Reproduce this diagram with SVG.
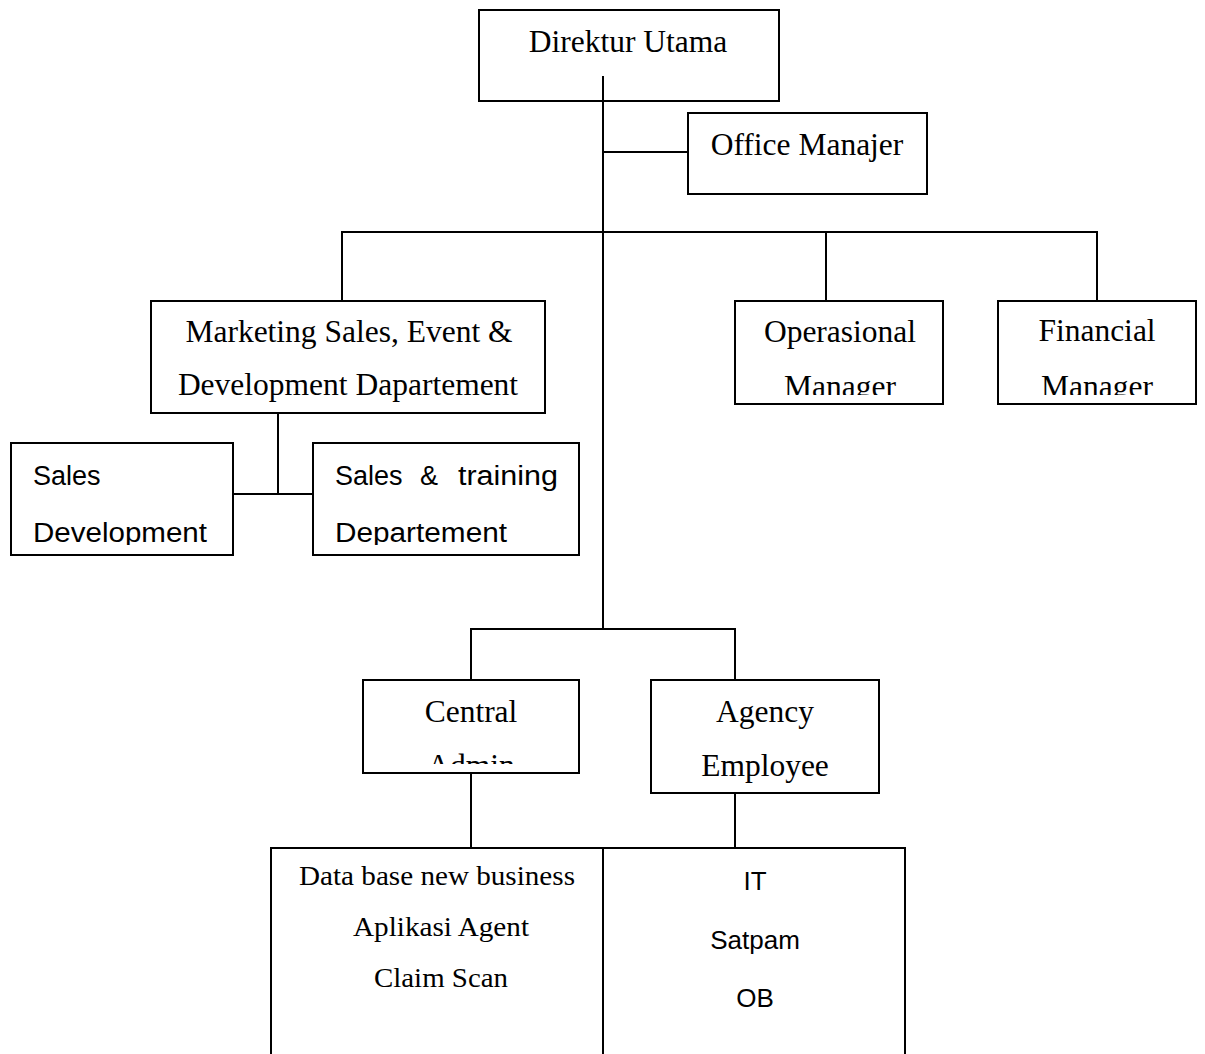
<svg xmlns="http://www.w3.org/2000/svg" width="1205" height="1054" viewBox="0 0 1205 1054">
<style>
.box{fill:#fff;stroke:#000;stroke-width:2}
.ln{stroke:#000;stroke-width:2;fill:none}
.s{font-family:"Liberation Serif","Times New Roman",serif;font-size:31.5px;fill:#000;text-anchor:middle}
.sb{font-family:"Liberation Serif","Times New Roman",serif;font-size:27px;fill:#000;text-anchor:middle}
.a{font-family:"Liberation Sans",Arial,sans-serif;font-size:27px;fill:#000}
.ab{font-family:"Liberation Sans",Arial,sans-serif;font-size:26px;fill:#000;text-anchor:middle}
</style>
<defs>
<clipPath id="cOp"><rect x="736" y="302" width="206" height="93"/></clipPath>
<clipPath id="cFin"><rect x="999" y="302" width="196" height="93"/></clipPath>
<clipPath id="cSD"><rect x="12" y="444" width="220" height="101"/></clipPath>
<clipPath id="cST"><rect x="314" y="444" width="264" height="101"/></clipPath>
<clipPath id="cCA"><rect x="364" y="681" width="214" height="83"/></clipPath>
</defs>
<rect width="1205" height="1054" fill="#fff"/>
<g id="connectors">
<line class="ln" x1="603" y1="76" x2="603" y2="629"/>
<line class="ln" x1="603" y1="152" x2="688" y2="152"/>
<polyline class="ln" points="342,301 342,232 1097,232 1097,301"/>
<line class="ln" x1="826" y1="232" x2="826" y2="301"/>
<line class="ln" x1="278" y1="413" x2="278" y2="494"/>
<line class="ln" x1="233" y1="494" x2="313" y2="494"/>
<polyline class="ln" points="471,680 471,629 735,629 735,680"/>
<line class="ln" x1="471" y1="773" x2="471" y2="848"/>
<line class="ln" x1="735" y1="793" x2="735" y2="848"/>
</g>
<g id="direktur-utama">
<rect class="box" x="479" y="10" width="300" height="91"/>
<line class="ln" x1="603" y1="76" x2="603" y2="101"/>
<text class="s" x="628" y="52">Direktur Utama</text>
</g>
<g id="office-manajer">
<rect class="box" x="688" y="113" width="239" height="81"/>
<text class="s" x="807" y="155">Office Manajer</text>
</g>
<g id="marketing">
<rect class="box" x="151" y="301" width="394" height="112"/>
<text class="s" x="349" y="342">Marketing Sales, Event &amp;</text>
<text class="s" x="348" y="395">Development Dapartement</text>
</g>
<g id="operasional">
<rect class="box" x="735" y="301" width="208" height="103"/>
<g clip-path="url(#cOp)">
<text class="s" x="840" y="342">Operasional</text>
<text class="s" x="840" y="397">Manager</text>
</g>
</g>
<g id="financial">
<rect class="box" x="998" y="301" width="198" height="103"/>
<g clip-path="url(#cFin)">
<text class="s" x="1097" y="341">Financial</text>
<text class="s" x="1097" y="397">Manager</text>
</g>
</g>
<g id="sales-development">
<rect class="box" x="11" y="443" width="222" height="112"/>
<g clip-path="url(#cSD)">
<text class="a" x="33" y="485">Sales</text>
<text class="a" x="33" y="542" textLength="174" lengthAdjust="spacingAndGlyphs">Development</text>
</g>
</g>
<g id="sales-training">
<rect class="box" x="313" y="443" width="266" height="112"/>
<g clip-path="url(#cST)">
<text class="a" x="335" y="485">Sales</text>
<text class="a" x="429" y="485" text-anchor="middle">&amp;</text>
<text class="a" x="558" y="485" text-anchor="end" textLength="100" lengthAdjust="spacingAndGlyphs">training</text>
<text class="a" x="335" y="542" textLength="172" lengthAdjust="spacingAndGlyphs">Departement</text>
</g>
</g>
<g id="central-admin">
<rect class="box" x="363" y="680" width="216" height="93"/>
<g clip-path="url(#cCA)">
<text class="s" x="471" y="722">Central</text>
<text class="s" x="471" y="776">Admin</text>
</g>
</g>
<g id="agency-employee">
<rect class="box" x="651" y="680" width="228" height="113"/>
<text class="s" x="765" y="722">Agency</text>
<text class="s" x="765" y="776">Employee</text>
</g>
<g id="bottom-units">
<polyline class="ln" points="271,1056 271,848 905,848 905,1056"/>
<line class="ln" x1="603" y1="848" x2="603" y2="1056"/>
<text class="sb" x="437" y="885" textLength="276" lengthAdjust="spacingAndGlyphs">Data base new business</text>
<text class="sb" x="441" y="936" textLength="176" lengthAdjust="spacingAndGlyphs">Aplikasi Agent</text>
<text class="sb" x="441" y="987" textLength="134" lengthAdjust="spacingAndGlyphs">Claim Scan</text>
<text class="ab" x="755" y="890">IT</text>
<text class="ab" x="755" y="949">Satpam</text>
<text class="ab" x="755" y="1007">OB</text>
</g>
</svg>
